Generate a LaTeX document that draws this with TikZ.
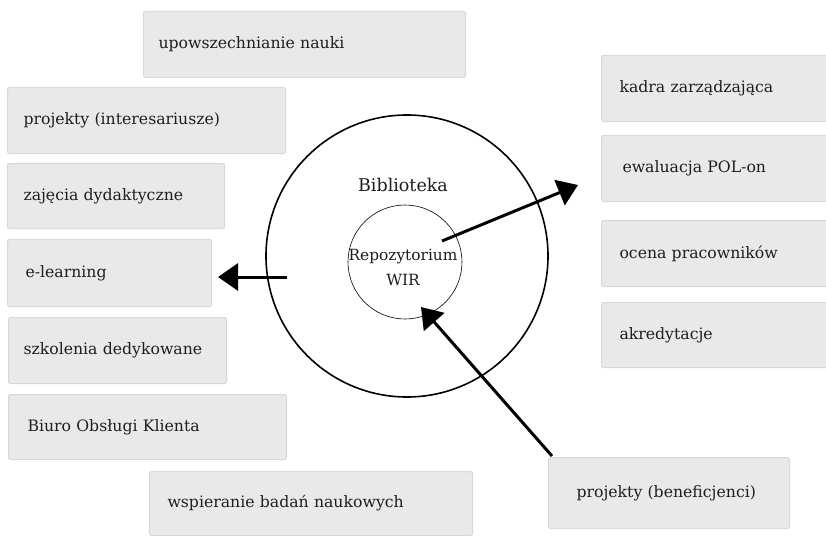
\documentclass[tikz,border=0pt]{standalone}
\usepackage{fontspec}
\setmainfont{DejaVu Serif}
\usetikzlibrary{arrows.meta}
\definecolor{boxfill}{HTML}{EAE9E9}
\definecolor{boxline}{HTML}{D8D8D8}
\definecolor{txt}{HTML}{1E1E1E}
\tikzset{
  box/.style={draw=boxline, fill=boxfill, line width=1pt, rounded corners=2pt,
    anchor=north west, align=left, inner xsep=17pt, inner ysep=0pt,
    font=\fontsize{15.7}{18}\selectfont, text=txt},
  arr/.style={line width=3pt, -{Triangle[length=20pt,width=27pt]}},
  lbl/.style={font=\fontsize{17.5}{20}\selectfont, text=txt, align=center, inner sep=0pt}
}
\begin{document}
\begin{tikzpicture}[x=1pt,y=-1pt]
\clip (0,0) rectangle (826,535);
\fill[white] (0,0) rectangle (826,535);
% left column
\node[box, text width=292pt, minimum height=66pt, inner xsep=15pt] (upow) at (143,11) {upowszechnianie nauki};
\node[box, text width=246pt, minimum height=66pt, inner xsep=16pt] (proi) at (7,87) {projekty (interesariusze)};
\node[box, text width=185pt, minimum height=65pt, inner xsep=16pt] (zaj) at (7,163) {zajęcia dydaktyczne};
\node[box, text width=168pt, minimum height=67pt, inner xsep=18pt] (elearn) at (7,239) {e-learning};
\node[box, text width=188pt, minimum height=66pt, inner xsep=15pt] (szk) at (8,317) {szkolenia dedykowane};
\node[box, text width=240pt, minimum height=65pt, inner xsep=19pt] (biuro) at (8,394) {Biuro Obsługi Klienta};
\node[box, text width=287pt, minimum height=64pt, inner xsep=18pt] (wsp) at (149,471) {wspieranie badań naukowych};
% right column
\node[box, text width=203pt, minimum height=66pt, inner xsep=18pt] (kadra) at (601,55) {kadra zarządzająca};
\node[box, text width=197pt, minimum height=66pt, inner xsep=21pt] (ewal) at (601,135) {ewaluacja POL-on};
\node[box, text width=203pt, minimum height=66pt, inner xsep=18pt] (ocena) at (601,220) {ocena pracowników};
\node[box, text width=203pt, minimum height=65pt, inner xsep=18pt] (akr) at (601,302) {akredytacje};
\node[box, text width=185pt, minimum height=71pt, inner xsep=28pt] (benef) at (548,457) {projekty (beneficjenci)};
% circles
\node[circle, draw, line width=1.6pt, minimum size=282pt, inner sep=0pt] (bib) at (407,256) {};
\node[lbl] (bibtext) at (403,185) {Biblioteka};
\node[circle, draw, line width=0.6pt, minimum size=114pt, inner sep=0pt] (repo) at (405,262) {};
\node[lbl, font=\fontsize{15.4}{25}\selectfont] (repotext) at (403,267) {Repozytorium\\WIR};
% arrows
\coordinate (a1s) at (287,277);
\coordinate (a1e) at (218,277);
\coordinate (a2s) at (442,241);
\coordinate (a2e) at (578,185);
\coordinate (a3s) at (552,456);
\coordinate (a3e) at (421,307);
\draw[arr] (a1s) -- (a1e);
\draw[arr] (a2s) -- (a2e);
\draw[arr] (a3s) -- (a3e);
\end{tikzpicture}
\end{document}
